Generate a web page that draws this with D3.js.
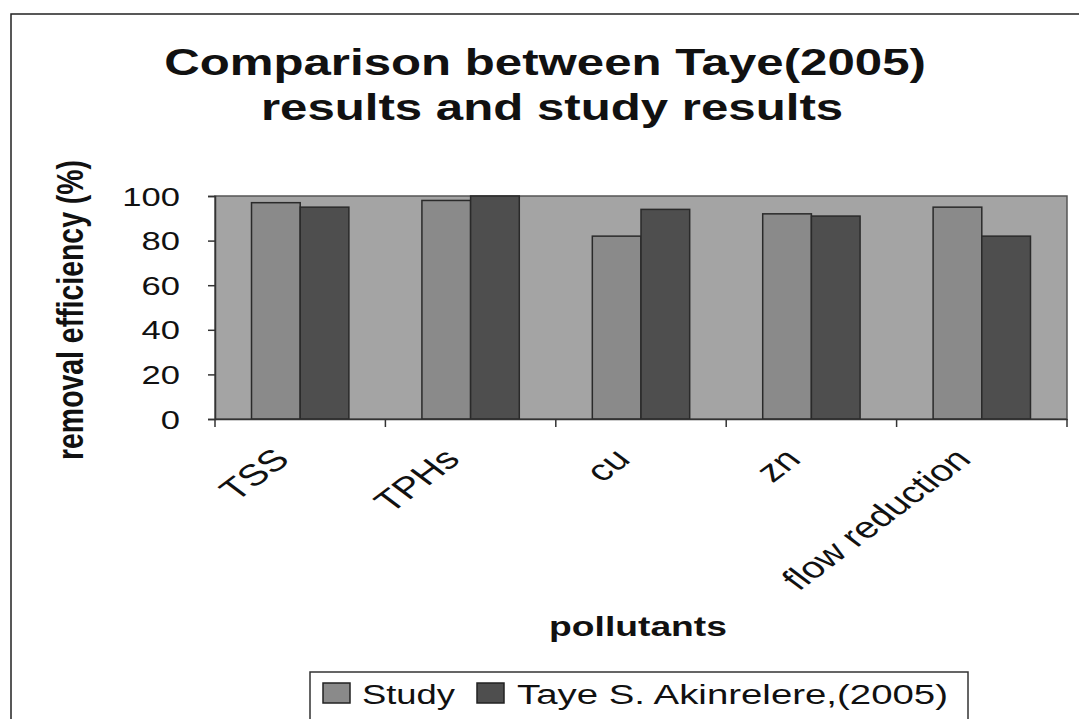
<html>
  <head>
    <script src="https://cdnjs.cloudflare.com/ajax/libs/d3/7.8.5/d3.min.js"></script>
  </head>
  <body style="margin:0;background:#fff;">
    <style>
      text {font-family:"Liberation Sans",Arial,sans-serif;fill:#111;}
    </style>
    <div id="chart"></div>
    <script>

// D A T A

      let pollutants = ['TSS', 'TPHs', 'cu', 'zn', 'flow reduction']
      let series = ['Study', 'Taye S. Akinrelere,(2005)']
      let study = [97, 98, 82, 92, 95]
      let taye = [95, 100, 94, 91, 82]
      let yTicks = [0, 20, 40, 60, 80, 100]
      let fills = ['#8a8a8a', '#4e4e4e']

// L A Y O U T

      // the scanned original is stretched sideways, so text gets a horizontal scale
      let sx = 1.33
      let W = 1079, H = 719
      let plot = {left: 215, top: 196, right: 1067, bottom: 419}

      let svg = d3.select('#chart').append('svg')
        .attr('width', W)
        .attr('height', H)

      function label(x, y, txt, size, opts) {
        opts = opts || {}
        let t = svg.append('text')
          .attr('transform', `translate(${x},${y}) scale(${sx},1)` + (opts.rotate ? ` rotate(${opts.rotate})` : ''))
          .attr('text-anchor', opts.anchor || 'middle')
          .style('font-size', size + 'px')
          .style('font-weight', opts.bold ? 'bold' : 'normal')
          .text(txt)
        if (opts.len) t.attr('textLength', opts.len).attr('lengthAdjust', 'spacingAndGlyphs')
        return t
      }

      // chart border
      svg.append('rect')
        .attr('x', 11).attr('y', 14)
        .attr('width', W + 5).attr('height', H + 5)
        .attr('fill', 'none')
        .attr('stroke', '#222')
        .attr('stroke-width', 1.5)

      // title
      label(545, 75, 'Comparison between Taye(2005)', 37, {bold: true})
      label(552, 120, 'results and study results', 37, {bold: true})

// S C A L E S

      let x = d3.scaleBand()
        .domain(pollutants)
        .range([plot.left, plot.right])

      let gap = x.bandwidth() * 1.5 / 3.5
      let x1 = d3.scaleBand()
        .domain(series)
        .range([gap / 2, x.bandwidth() - gap / 2])

      let y = d3.scaleLinear()
        .domain([0, 100])
        .range([plot.bottom, plot.top])

      // plot area
      svg.append('rect')
        .attr('x', plot.left).attr('y', plot.top)
        .attr('width', plot.right - plot.left)
        .attr('height', plot.bottom - plot.top)
        .attr('fill', '#a4a4a4')
        .attr('stroke', '#555')
        .attr('stroke-width', 1.5)

// B A R S

      let rows = pollutants.map((p, i) => ({p, values: [study[i], taye[i]]}))

      svg.append('g')
        .selectAll('g')
        .data(rows)
        .join('g')
          .attr('transform', d => `translate(${x(d.p)},0)`)
        .selectAll('rect')
        .data(d => d.values.map((v, j) => ({s: series[j], v, j})))
        .join('rect')
          .attr('x', d => x1(d.s))
          .attr('y', d => y(d.v))
          .attr('width', x1.bandwidth())
          .attr('height', d => y(0) - y(d.v))
          .attr('fill', d => fills[d.j])
          .attr('stroke', '#2a2a2a')
          .attr('stroke-width', 1.5)

// A X E S

      let yAxis = svg.append('g')
        .attr('transform', `translate(${plot.left},0)`)
        .call(d3.axisLeft(y).tickValues(yTicks).tickSize(7).tickFormat(''))
      yAxis.selectAll('line').attr('stroke', '#333').attr('stroke-width', 1.5)
      yAxis.select('.domain').attr('stroke', '#333').attr('stroke-width', 1.5)

      yTicks.forEach(v => label(180, y(v) + 9.5, v, 26, {anchor: 'end'}))

      let xAxis = svg.append('g')
        .attr('transform', `translate(0,${plot.bottom})`)
        .call(d3.axisBottom(x).tickSize(0).tickFormat(''))
      xAxis.select('.domain').attr('stroke', '#333').attr('stroke-width', 1.5)

      // category boundary ticks
      svg.append('g')
        .selectAll('line')
        .data(pollutants.map(p => x(p)).concat([plot.right]))
        .join('line')
          .attr('x1', d => d)
          .attr('x2', d => d)
          .attr('y1', plot.bottom)
          .attr('y2', plot.bottom + 8)
          .attr('stroke', '#333')
          .attr('stroke-width', 1.5)

      pollutants.forEach(p =>
        label(x(p) + x.bandwidth() / 2 - 9, plot.bottom + 42, p, 30, {anchor: 'end', rotate: -45}))

      label(83, 310, 'removal efficiency (%)', 28, {bold: true, rotate: -90, len: 300})

      label(638, 636, 'pollutants', 28, {bold: true})

// L E G E N D

      svg.append('rect')
        .attr('x', 310).attr('y', 672)
        .attr('width', 658).attr('height', 50)
        .attr('fill', '#fff')
        .attr('stroke', '#333')
        .attr('stroke-width', 1.5)

      let lx = [323, 477]
      let tx = [362, 517]
      let tw = [93, 431]
      series.forEach((s, i) => {
        svg.append('rect')
          .attr('x', lx[i]).attr('y', 683)
          .attr('width', 27).attr('height', 20)
          .attr('fill', fills[i])
          .attr('stroke', '#222')
          .attr('stroke-width', 1.5)
        label(tx[i], 704, s, 28, {anchor: 'start', len: tw[i] / sx})
      })

    </script>
  </body>
</html>
